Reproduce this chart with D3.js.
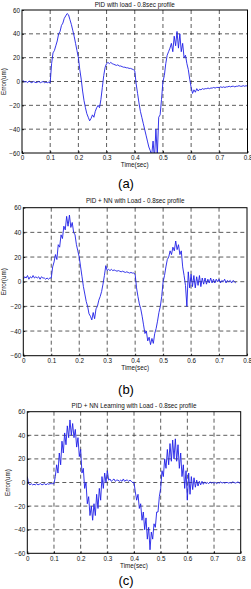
<!DOCTYPE html>
<html>
<head>
<meta charset="utf-8">
<script src="https://cdn.jsdelivr.net/npm/d3@7"></script>
<style>
  body { margin: 0; background: #fff; }
  svg { display: block; }
  text { font-family: "Liberation Sans", Arial, sans-serif; }
</style>
</head>
<body>
<div id="chart"></div>
<script>
// sampling step of the recorded error signals (sec)
const step = 0.005;

const xTicks = [0, 0.1, 0.2, 0.3, 0.4, 0.5, 0.6, 0.7, 0.8];
const yTicks = [-60, -40, -20, 0, 20, 40, 60];

const titles = [
    "PID with load - 0.8sec profile",
    "PID + NN with Load - 0.8sec profile",
    "PID + NN Learning with Load - 0.8sec profile"
];
const captions = ["(a)", "(b)", "(c)"];

// error (um), one value per 5 ms
const errPID = [
    0, 0.5, -0.5, 0, -1, 0.5, -0.5, -1, 0, -0.5,
    -1, -0.5, 0, -1, -0.5, 0, -1, -0.5, -1, -0.5,
    -1, 15, 24, 26, 30, 34, 40, 42, 47, 49,
    53, 55, 57, 56, 52, 48, 43, 38, 32, 26,
    20, 10, 2, -8, -16, -22, -27, -30, -33, -31,
    -28, -30, -25, -22, -20, -22, -15, -5, 5, 12,
    15, 16, 15, 16, 15, 14.5, 14, 13.5, 14, 13,
    13, 12.5, 12, 12, 11.5, 11.5, 11, 11, 10.5, 10,
    9, -2, -10, -18, -25, -30, -35, -40, -45, -50,
    -55, -58, -62, -50, -65, -40, -62, -30, -28, -15,
    0, 5, 15, 22, 25, 28, 32, 25, 38, 30,
    42, 28, 40, 25, 32, 20, 22, 15, 10, 2,
    -5, -10, -7, -9, -6, -8, -6.5, -7, -6, -6.5,
    -6, -6, -5.5, -6, -5.5, -5.5, -5, -5.5, -5, -5,
    -5, -4.5, -5, -4.5, -5, -4.5, -4.5, -4, -4.5, -4,
    -4, -4.5, -4, -4, -3.5, -4, -4, -3.5, -4, -3.5, -4
];

const errPIDNN = [
    2, 4, 3, 5, 2, 4, 3, 5, 3, 4,
    3, 4, 2, 4, 3, 3, 2, 3, 2, 3,
    3, 12, 16, 22, 18, 30, 28, 38, 35, 45,
    42, 53, 45, 54, 44, 48, 40, 38, 30, 25,
    20, 12, 4, -4, -10, -16, -20, -26, -28, -31,
    -25, -30, -22, -20, -15, -12, -8, -2, 5, 13,
    9, 10, 9, 10, 9, 9.5, 9, 8.5, 9, 8.5,
    8, 8.5, 8, 7.5, 8, 7.5, 7, 7.5, 7, 7,
    6, -5, -12, -18, -22, -28, -35, -42, -40, -48,
    -45, -51, -46, -50, -42, -38, -32, -25, -20, -12,
    0, 5, 12, 18, 20, 25, 22, 28, 25, 33,
    26, 30, 22, 25, 12, 5, -3, -20, 8, -5,
    6, -4, 5, -5, 4, -3, 5, -4, 3, -2,
    3, -2, 2, -1, 3, -1, 2, -1, 2, 0,
    2, -1, 1, 0, 2, -1, 1, 0, 1, -1,
    1, 0, -1
];

const errPIDNNLearn = [
    5, -1, -2, -1, -2, -1.5, -2, -1, -2, -1.5,
    -1, -2, -1.5, -1, -2, -1, -1.5, -1, -1, -1,
    -1, 5, 15, 8, 25, 15, 35, 25, 42, 32,
    48, 38, 53, 40, 50, 38, 45, 30, 38, 22,
    28, 8, 12, -5, 0, -18, -12, -28, -20, -32,
    -18, -28, -10, -22, -5, -15, 5, -5, 8, 0,
    10, 2, 3, 1, 2, 3, 1, 2, 2, 1,
    2, 1, 3, 1, 2, 2, 1, 2, 1, 0,
    0, -8, -15, -10, -22, -18, -32, -25, -40, -30,
    -48, -38, -57, -42, -48, -35, -38, -25, -25, -12,
    -5, 10, 5, 20, 12, 28, 15, 33, 18, 36,
    20, 37, 18, 32, 12, 25, 5, 15, -5, 10,
    -15, 8, -10, 5, -6, 4, -4, 2, -3, 1,
    -2, 1, -1.5, 0.5, -1, 0, -1, 0.5, -0.5, 0,
    -0.5, 0, -1, 0, -0.5, 0.5, -0.5, 0, -0.5, 0,
    0, -0.5, 0, -0.5, 0.5, 0, -0.5, 0, 0.5, -0.5, 0
];

const series = [errPID, errPIDNN, errPIDNNLearn];

// plot boxes and label positions for the three panels
const panels = [
    { left: 22, right: 247.5, top: 10, bottom: 153, titleY: 6.5, ylabX: 4, xlabY: 166.5, capY: 188 },
    { left: 23.3, right: 247, top: 207.7, bottom: 355.7, titleY: 203, ylabX: 4, xlabY: 370, capY: 394 },
    { left: 27.3, right: 240.7, top: 411.7, bottom: 553.3, titleY: 408, ylabX: 8, xlabY: 567.5, capY: 584.5 }
];

const width = 251;
const height = 589;

const svg = d3.select("#chart").append("svg")
    .attr("width", width)
    .attr("height", height);

panels.forEach((p, k) => {
    const x = d3.scaleLinear().domain([0, 0.8]).range([p.left, p.right]);
    const y = d3.scaleLinear().domain([-60, 60]).range([p.bottom, p.top]);

    const g = svg.append("g");

    g.append("clipPath").attr("id", "clip" + k)
        .append("rect")
        .attr("x", p.left).attr("y", p.top)
        .attr("width", p.right - p.left).attr("height", p.bottom - p.top);

    // dashed grid
    g.selectAll(".vgrid")
        .data(xTicks.slice(1, -1))
        .enter().append("line")
        .attr("x1", d => x(d)).attr("x2", d => x(d))
        .attr("y1", p.top).attr("y2", p.bottom)
        .attr("stroke", "#333").attr("stroke-width", 0.8)
        .attr("stroke-dasharray", "4,3");

    g.selectAll(".hgrid")
        .data(yTicks.slice(1, -1))
        .enter().append("line")
        .attr("x1", p.left).attr("x2", p.right)
        .attr("y1", d => y(d)).attr("y2", d => y(d))
        .attr("stroke", "#333").attr("stroke-width", 0.8)
        .attr("stroke-dasharray", "4,3");

    // signal
    const line = d3.line()
        .x((d, i) => x(i * step))
        .y(d => y(d));

    g.append("path")
        .datum(series[k])
        .attr("clip-path", "url(#clip" + k + ")")
        .attr("d", line)
        .attr("fill", "none")
        .attr("stroke", "#1f1fe6")
        .attr("stroke-width", 0.9)
        .attr("stroke-linejoin", "round");

    // axes (inward ticks, matlab style)
    const xAxis = d3.axisBottom(x).tickValues(xTicks).tickSize(-2).tickPadding(3)
        .tickFormat(d => d === 0 ? "0" : d3.format(".1f")(d));
    const yAxis = d3.axisLeft(y).tickValues(yTicks).tickSize(-2).tickPadding(2);

    const gx = g.append("g")
        .attr("transform", `translate(0,${p.bottom})`)
        .call(xAxis);
    const gy = g.append("g")
        .attr("transform", `translate(${p.left},0)`)
        .call(yAxis);

    [gx, gy].forEach(a => {
        a.select(".domain").remove();
        a.selectAll("line").attr("stroke", "#000").attr("stroke-width", 0.8);
        a.selectAll("text").attr("font-size", 6.3).attr("fill", "#111")
            .attr("font-family", "Liberation Sans, Arial, sans-serif");
    });

    // frame
    g.append("rect")
        .attr("x", p.left).attr("y", p.top)
        .attr("width", p.right - p.left).attr("height", p.bottom - p.top)
        .attr("fill", "none").attr("stroke", "#000").attr("stroke-width", 1);

    // labels
    g.append("text")
        .attr("x", (p.left + p.right) / 2).attr("y", p.titleY)
        .attr("text-anchor", "middle")
        .attr("font-size", 6.3).attr("fill", "#111")
        .text(titles[k]);

    g.append("text")
        .attr("x", (p.left + p.right) / 2).attr("y", p.xlabY)
        .attr("text-anchor", "middle")
        .attr("font-size", 6.3).attr("fill", "#111")
        .text("Time(sec)");

    g.append("text")
        .attr("transform", `translate(${p.ylabX},${(p.top + p.bottom) / 2}) rotate(-90)`)
        .attr("text-anchor", "middle")
        .attr("dy", "0.35em")
        .attr("font-size", 6.3).attr("fill", "#111")
        .text("Error(um)");

    g.append("text")
        .attr("x", 126).attr("y", p.capY)
        .attr("text-anchor", "middle")
        .attr("font-family", "Liberation Serif, 'Times New Roman', serif")
        .attr("font-size", 13).attr("fill", "#000")
        .text(captions[k]);
});
</script>
</body>
</html>
